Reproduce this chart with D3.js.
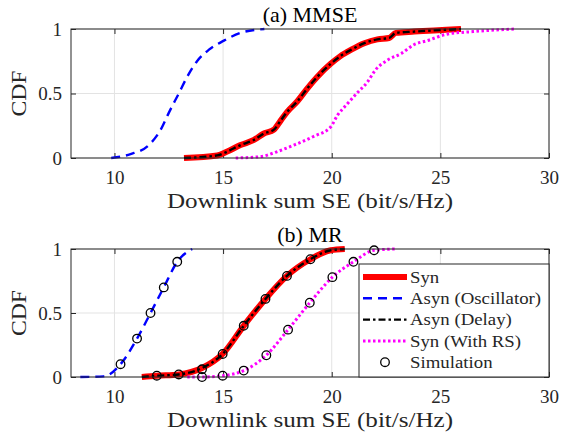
<!DOCTYPE html>
<html><head><meta charset="utf-8">
<script src="https://cdn.jsdelivr.net/npm/d3@7/dist/d3.min.js"></script>
<style>body{margin:0;background:#fff}svg{display:block}</style>
</head><body><svg id="c" width="561" height="433"></svg>
<script>
// ---- data ----
const xTicks = [10, 15, 20, 25, 30];
const yTicks = [0, 0.5, 1];
const yTickLabels = ["0", "0.5", "1"];
const titles = ["(a) MMSE", "(b) MR"];
const xLabel = "Downlink sum SE (bit/s/Hz)";
const yLabel = "CDF";
const legendNames = ["Syn", "Asyn (Oscillator)", "Asyn (Delay)", "Syn (With RS)", "Simulation"];

// (a) MMSE
const mmseAsynOscX = [9.85, 10.74, 11.58, 12.13, 12.5, 12.96, 13.35, 13.8, 14.35, 15.04, 15.8, 16.9];
const mmseAsynOscY = [0, 0.03, 0.1, 0.22, 0.35, 0.5, 0.63, 0.75, 0.84, 0.91, 0.97, 1.0];
const mmseSynX = [13.2, 14.73, 15.19, 15.8, 16.42, 16.88, 17.34, 17.65, 17.96, 18.42, 18.88, 19.34, 19.95, 20.4, 20.9, 21.5, 22.1, 22.64, 22.95, 23.8, 25.95];
const mmseSynY = [0, 0.02, 0.05, 0.1, 0.14, 0.19, 0.22, 0.29, 0.36, 0.44, 0.54, 0.63, 0.73, 0.79, 0.84, 0.89, 0.92, 0.93, 0.97, 0.98, 1.0];
const mmseRSX = [15.58, 16.7, 17.5, 18.26, 19.2, 19.95, 20.26, 20.72, 21.2, 21.65, 22.0, 22.58, 23.2, 23.8, 24.4, 25.3, 26.5, 28.4];
const mmseRSY = [0, 0.01, 0.05, 0.1, 0.17, 0.24, 0.33, 0.42, 0.51, 0.59, 0.68, 0.76, 0.81, 0.88, 0.91, 0.96, 0.98, 1.0];

// (b) MR
const mrAsynOscX = [8.43, 9.5, 10.28, 11.04, 11.66, 12.27, 12.89, 13.58];
const mrAsynOscY = [0.0, 0.005, 0.1, 0.3, 0.5, 0.7, 0.9, 1.0];
const mrSynX = [11.26, 11.95, 12.96, 14.03, 14.98, 15.95, 16.95, 17.94, 19.02, 19.95, 20.6];
const mrSynY = [0, 0.01, 0.02, 0.07, 0.18, 0.4, 0.61, 0.79, 0.92, 0.99, 1.0];
const mrRSX = [13.35, 14.03, 14.98, 15.95, 16.99, 17.99, 18.99, 20.03, 21.0, 21.95, 22.9];
const mrRSY = [0, 0.0, 0.01, 0.05, 0.17, 0.37, 0.58, 0.78, 0.9, 0.99, 1.0];
const mrSimX = [10.28, 11.04, 11.66, 12.27, 12.89, 11.95, 12.96, 14.03, 14.98, 15.95, 16.95, 17.94, 19.02, 14.03, 14.98, 15.95, 16.99, 17.99, 18.99, 20.03, 21.0, 21.95];
const mrSimY = [0.1, 0.3, 0.5, 0.7, 0.9, 0.01, 0.02, 0.06, 0.18, 0.4, 0.61, 0.79, 0.92, 0.0, 0.01, 0.05, 0.17, 0.37, 0.58, 0.78, 0.9, 0.99];

// ---- drawing ----
const svg = d3.select("#c");
const FONT = "Liberation Serif";
const STRETCH = 1.14; // emulate the wider LaTeX serif
const L = 71, R = 549;
const panels = [
  {top: 29, bottom: 158, title: titles[0],
   series: [
     {x: mmseSynX, y: mmseSynY, key: "syn"},
     {x: mmseAsynOscX, y: mmseAsynOscY, key: "osc"},
     {x: mmseSynX, y: mmseSynY, key: "delay"},
     {x: mmseRSX, y: mmseRSY, key: "rs"}
   ], sim: null},
  {top: 249, bottom: 377, title: titles[1],
   series: [
     {x: mrSynX, y: mrSynY, key: "syn"},
     {x: mrAsynOscX, y: mrAsynOscY, key: "osc"},
     {x: mrSynX, y: mrSynY, key: "delay"},
     {x: mrRSX, y: mrRSY, key: "rs"}
   ], sim: {x: mrSimX, y: mrSimY}, legend: true}
];
const styles = {
  syn:   {stroke: "#ff0000", width: 6, dash: null},
  osc:   {stroke: "#0000ff", width: 2.4, dash: "9,6"},
  delay: {stroke: "#000000", width: 2.4, dash: "7,3,2.5,3"},
  rs:    {stroke: "#ff00ff", width: 3, dash: "2.5,2.5"}
};

function stretchedText(parent, x, y, txt, size, anchor) {
  return parent.append("g").attr("transform", `translate(${x},${y}) scale(${STRETCH},1)`)
    .append("text").attr("x", 0).attr("y", 0).attr("text-anchor", anchor)
    .attr("font-family", FONT).attr("font-size", size).attr("fill", "#262626").text(txt);
}

panels.forEach(p => {
  const x = d3.scaleLinear().domain([8, 30]).range([L, R]);
  const y = d3.scaleLinear().domain([0, 1]).range([p.bottom, p.top]);
  const g = svg.append("g");
  // grid
  g.selectAll(".gx").data(xTicks).join("line")
    .attr("x1", d => x(d)).attr("x2", d => x(d)).attr("y1", p.top).attr("y2", p.bottom)
    .attr("stroke", "#e3e3e3").attr("stroke-width", 1);
  g.selectAll(".gy").data(yTicks).join("line")
    .attr("x1", L).attr("x2", R).attr("y1", d => y(d)).attr("y2", d => y(d))
    .attr("stroke", "#e3e3e3").attr("stroke-width", 1);
  // axes
  const ax = g.append("g").attr("transform", `translate(0,${p.bottom})`)
    .call(d3.axisBottom(x).tickValues(xTicks).tickSizeInner(-5).tickSizeOuter(0).tickPadding(12));
  const axT = g.append("g").attr("transform", `translate(0,${p.top})`)
    .call(d3.axisTop(x).tickValues(xTicks).tickSizeInner(-5).tickSizeOuter(0).tickFormat(""));
  const ay = g.append("g").attr("transform", `translate(${L},0)`)
    .call(d3.axisLeft(y).tickValues(yTicks).tickFormat((d, i) => yTickLabels[i]).tickSizeInner(-5).tickSizeOuter(0).tickPadding(9));
  const ayR = g.append("g").attr("transform", `translate(${R},0)`)
    .call(d3.axisRight(y).tickValues(yTicks).tickSizeInner(-5).tickSizeOuter(0).tickFormat(""));
  [ax, axT, ay, ayR].forEach(a => {
    a.selectAll("path.domain").remove();
    a.selectAll("line").attr("stroke", "#262626");
    a.selectAll("text").attr("font-family", FONT).attr("font-size", 19).attr("fill", "#262626");
  });
  ax.selectAll("text").attr("dy", null).attr("y", 26);
  ay.selectAll("text").attr("dy", "0.34em");
  // lines
  const lg = g.append("g");
  p.series.forEach(s => {
    const st = styles[s.key];
    const pts = s.x.map((v, i) => [x(v), y(s.y[i])]);
    lg.append("path").attr("d", d3.line().curve(d3.curveMonotoneX)(pts))
      .attr("fill", "none").attr("stroke", st.stroke).attr("stroke-width", st.width)
      .attr("stroke-dasharray", st.dash).attr("stroke-linejoin", "round");
  });
  if (p.sim) {
    lg.selectAll("circle").data(p.sim.x.map((v, i) => [v, p.sim.y[i]])).join("circle")
      .attr("cx", d => x(d[0])).attr("cy", d => y(d[1])).attr("r", 4.3)
      .attr("fill", "none").attr("stroke", "#000").attr("stroke-width", 1.3);
  }
  // box
  g.append("rect").attr("x", L).attr("y", p.top).attr("width", R - L).attr("height", p.bottom - p.top)
    .attr("fill", "none").attr("stroke", "#262626").attr("stroke-width", 1);
  // title
  g.append("text").attr("x", (L + R) / 2).attr("y", p.top - 7).attr("text-anchor", "middle")
    .attr("font-family", FONT).attr("font-size", 22).attr("fill", "#000").text(p.title);
  // x label
  stretchedText(g, (L + R) / 2, p.bottom + 50, xLabel, 22, "middle");
  // y label
  g.append("text").attr("transform", `translate(26,${(p.top + p.bottom) / 2}) rotate(-90)`)
    .attr("text-anchor", "middle").attr("font-family", FONT).attr("font-size", 22)
    .attr("textLength", 46).attr("lengthAdjust", "spacingAndGlyphs")
    .attr("fill", "#262626").text(yLabel);

  if (p.legend) {
    const lx = 359, ly = 264;
    const leg = g.append("g");
    leg.append("rect").attr("x", lx).attr("y", ly).attr("width", R - lx).attr("height", p.bottom - ly)
      .attr("fill", "#fff").attr("stroke", "#262626").attr("stroke-width", 1);
    const keys = ["syn", "osc", "delay", "rs", "sim"];
    keys.forEach((k, i) => {
      const cy = ly + 13 + i * 21.3;
      if (k === "sim") {
        leg.append("circle").attr("cx", 385).attr("cy", cy).attr("r", 4.3)
          .attr("fill", "none").attr("stroke", "#000").attr("stroke-width", 1.3);
      } else {
        const st = styles[k];
        leg.append("line").attr("x1", 363).attr("x2", 407).attr("y1", cy).attr("y2", cy)
          .attr("stroke", st.stroke).attr("stroke-width", st.width).attr("stroke-dasharray", st.dash);
      }
      stretchedText(leg, 410, cy, legendNames[i], 16.5, "start").attr("dy", "0.35em");
    });
  }
});
</script></body></html>
